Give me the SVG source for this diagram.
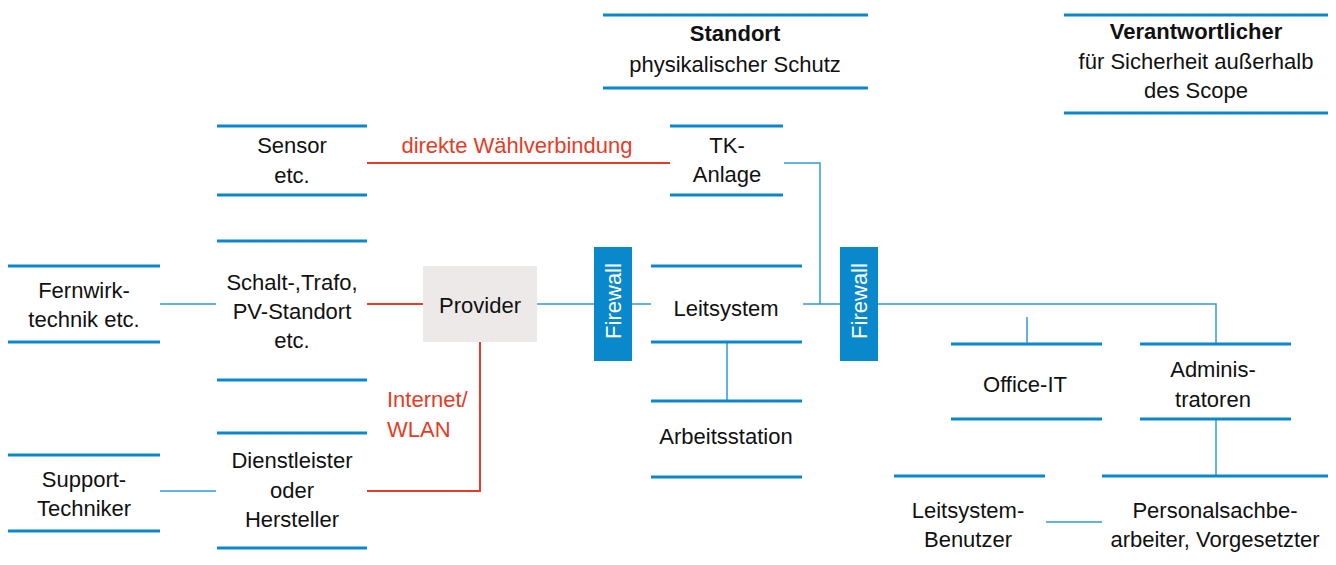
<svg xmlns="http://www.w3.org/2000/svg" width="1336" height="565" viewBox="0 0 1336 565">
<style>
text{font-family:"Liberation Sans",Arial,sans-serif;font-size:22px;fill:#111;text-anchor:middle}
.b{font-weight:bold}
.red{fill:#e53c26}
.ls{text-anchor:start}
.fw{fill:#fff;font-size:22px}
.bar{stroke:#0a88cc;stroke-width:3;fill:none}
.c{stroke:#2f9ad6;stroke-width:1.5;fill:none}
.r{stroke:#e53c26;stroke-width:2;fill:none}
.fwr{fill:#0a88cc}
</style>
<g id="connectors">
<path class="r" d="M367 163H670"/>
<path class="r" d="M367 304H423"/>
<path class="r" d="M480 342V491H367"/>
<path class="c" d="M160 304H216"/>
<path class="c" d="M160 491H216"/>
<path class="c" d="M537 304H594"/>
<path class="c" d="M632 304H651"/>
<path class="c" d="M803 304H840"/>
<path class="c" d="M878 304H1216V344"/>
<path class="c" d="M784 163H820V304"/>
<path class="c" d="M727 342V401"/>
<path class="c" d="M1027 317V344"/>
<path class="c" d="M1216 419V476"/>
<path class="c" d="M1046 522H1102"/>
</g>
<g id="label-direkt"><text class="red" x="517" y="153">direkte Wählverbindung</text></g>
<g id="label-internet"><text class="red ls" x="387" y="407">Internet/</text><text class="red ls" x="387" y="437">WLAN</text></g>
<g id="standort">
<path class="bar" d="M603 15H868M603 88H868"/>
<text class="b" x="735" y="41">Standort</text>
<text x="735" y="72">physikalischer Schutz</text>
</g>
<g id="verantwortlicher">
<path class="bar" d="M1064 15H1328M1064 113H1328"/>
<text class="b" x="1196" y="39">Verantwortlicher</text>
<text x="1196" y="69">für Sicherheit außerhalb</text>
<text x="1196" y="98">des Scope</text>
</g>
<g id="sensor">
<path class="bar" d="M217 126H367M217 195H367"/>
<text x="292" y="153">Sensor</text>
<text x="292" y="183">etc.</text>
</g>
<g id="tk-anlage">
<path class="bar" d="M670 126H783M670 195H783"/>
<text x="727" y="153">TK-</text>
<text x="727" y="182">Anlage</text>
</g>
<g id="fernwirk">
<path class="bar" d="M8 266H160M8 342H160"/>
<text x="84" y="298">Fernwirk-</text>
<text x="84" y="327">technik etc.</text>
</g>
<g id="schalt">
<path class="bar" d="M217 241H367M217 380H367"/>
<text x="292" y="290">Schalt-,Trafo,</text>
<text x="292" y="319">PV-Standort</text>
<text x="292" y="348">etc.</text>
</g>
<g id="provider">
<rect x="423" y="266" width="114" height="76" fill="#ece9e8"/>
<text x="480" y="313">Provider</text>
</g>
<g id="firewall1">
<rect class="fwr" x="594" y="247" width="38" height="114"/>
<text class="fw" transform="translate(621 301) rotate(-90)">Firewall</text>
</g>
<g id="leitsystem">
<path class="bar" d="M651 266H802M651 342H802"/>
<text x="726" y="316">Leitsystem</text>
</g>
<g id="arbeitsstation">
<path class="bar" d="M651 401H802M651 477H802"/>
<text x="726" y="444">Arbeitsstation</text>
</g>
<g id="firewall2">
<rect class="fwr" x="840" y="247" width="38" height="114"/>
<text class="fw" transform="translate(867 301) rotate(-90)">Firewall</text>
</g>
<g id="office-it">
<path class="bar" d="M951 344H1102M951 419H1102"/>
<text x="1025" y="392">Office-IT</text>
</g>
<g id="administratoren">
<path class="bar" d="M1140 344H1291M1140 419H1291"/>
<text x="1213" y="377">Adminis-</text>
<text x="1213" y="407">tratoren</text>
</g>
<g id="dienstleister">
<path class="bar" d="M217 433H367M217 548H367"/>
<text x="292" y="468">Dienstleister</text>
<text x="292" y="498">oder</text>
<text x="292" y="527">Hersteller</text>
</g>
<g id="support">
<path class="bar" d="M8 455H160M8 531H160"/>
<text x="84" y="487">Support-</text>
<text x="84" y="516">Techniker</text>
</g>
<g id="leitsystem-benutzer">
<path class="bar" d="M894 476H1045"/>
<text x="968" y="518">Leitsystem-</text>
<text x="968" y="547">Benutzer</text>
</g>
<g id="personal">
<path class="bar" d="M1102 476H1328"/>
<text x="1215" y="518">Personalsachbe-</text>
<text x="1215" y="547">arbeiter, Vorgesetzter</text>
</g>
</svg>
